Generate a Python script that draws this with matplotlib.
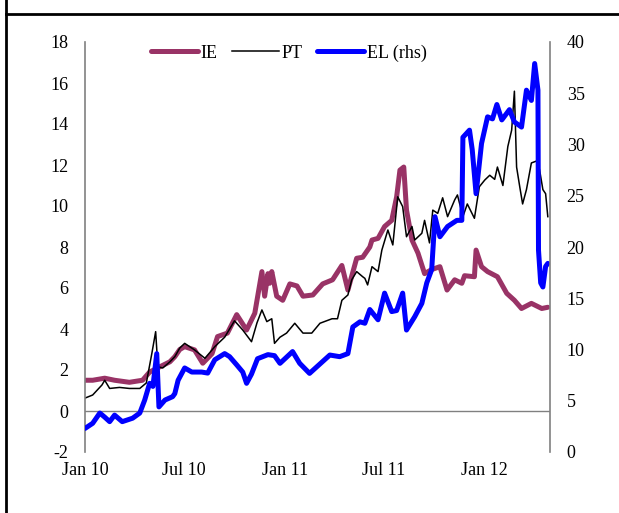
import matplotlib
matplotlib.use("Agg")
import matplotlib.pyplot as plt
from matplotlib.lines import Line2D
import pandas as pd

ie_dates = ["2010-01-01","2010-01-15","2010-02-06","2010-02-24","2010-03-23","2010-04-16","2010-04-29",
            "2010-05-18","2010-06-05","2010-06-14","2010-06-23","2010-07-02","2010-07-20","2010-08-04",
            "2010-08-21","2010-08-31","2010-09-18","2010-10-05","2010-10-23","2010-11-07","2010-11-20",
            "2010-11-25","2010-12-01","2010-12-04","2010-12-08","2010-12-17","2010-12-28","2011-01-10",
            "2011-01-23","2011-02-03","2011-02-21","2011-03-11","2011-03-29","2011-04-15","2011-04-26",
            "2011-05-12","2011-05-23","2011-06-05","2011-06-09","2011-06-20","2011-07-02","2011-07-15",
            "2011-07-24","2011-07-30","2011-08-06","2011-08-11","2011-08-21","2011-09-01","2011-09-13",
            "2011-09-26","2011-10-11","2011-10-24","2011-11-07","2011-11-20","2011-11-25","2011-12-13",
            "2011-12-16","2011-12-26","2012-01-06","2012-01-24","2012-02-10","2012-02-24","2012-03-08",
            "2012-03-26","2012-04-14","2012-04-25"]
ie_vals = [1.5,1.5,1.6,1.5,1.4,1.5,1.9,
           2.16,2.4,2.65,3.0,3.14,2.98,2.33,
           2.8,3.63,3.8,4.7,3.95,4.77,6.8,
           5.6,6.7,6.23,6.8,5.6,5.4,6.2,
           6.1,5.6,5.66,6.2,6.4,7.1,5.9,
           7.45,7.5,8.0,8.34,8.42,9.0,9.3,
           10.45,11.75,11.9,9.8,8.34,7.7,6.7,
           6.9,7.04,5.9,6.4,6.23,6.6,6.55,
           7.85,7.04,6.8,6.55,5.74,5.4,5.0,
           5.25,5.0,5.06]

pt_dates = ["2010-01-01","2010-01-15","2010-02-01","2010-02-06","2010-02-15","2010-03-05","2010-03-23",
            "2010-04-11","2010-04-23","2010-05-03","2010-05-10","2010-05-14","2010-05-23","2010-06-05",
            "2010-06-14","2010-06-23","2010-07-02","2010-07-20","2010-08-08","2010-08-26","2010-09-13",
            "2010-10-01","2010-10-16","2010-11-01","2010-11-11","2010-11-20","2010-11-29","2010-12-08",
            "2010-12-13","2010-12-23","2011-01-04","2011-01-19","2011-02-03","2011-02-19","2011-03-06",
            "2011-03-28","2011-04-07","2011-04-15","2011-04-26","2011-05-03","2011-05-12","2011-05-23",
            "2011-05-27","2011-06-01","2011-06-09","2011-06-20","2011-06-27","2011-07-08","2011-07-17",
            "2011-07-26","2011-08-04","2011-08-11","2011-08-21","2011-08-26","2011-09-08","2011-09-13",
            "2011-09-22","2011-09-28","2011-10-07","2011-10-16","2011-10-25","2011-11-07","2011-11-12",
            "2011-11-22","2011-11-30","2011-12-13","2011-12-22","2012-01-01","2012-01-10","2012-01-19",
            "2012-01-24","2012-02-03","2012-02-12","2012-02-19","2012-02-24","2012-02-28","2012-03-05",
            "2012-03-10","2012-03-17","2012-03-26","2012-04-05","2012-04-10","2012-04-16","2012-04-21",
            "2012-04-25"]
pt_vals = [0.63,0.78,1.27,1.5,1.1,1.15,1.1,
           1.1,1.37,2.8,3.87,2.16,2.1,2.4,
           2.65,3.07,3.3,2.98,2.57,3.14,3.6,
           4.4,3.95,3.38,4.3,4.93,4.36,4.5,
           3.3,3.6,3.8,4.28,3.8,3.8,4.28,
           4.5,4.5,5.4,5.66,6.4,6.8,6.55,
           6.47,6.15,7.04,6.8,7.85,8.83,8.1,
           10.45,9.97,8.5,9.0,8.34,8.67,9.3,
           8.2,9.8,9.64,10.4,9.48,10.3,10.54,
           9.48,10.1,9.4,10.94,11.27,11.5,11.3,
           11.9,11.0,12.9,13.7,15.6,11.9,10.9,
           10.1,10.8,12.1,12.2,11.76,10.8,10.6,
           9.48]

el_dates = ["2010-01-01","2010-01-15","2010-01-28","2010-02-06","2010-02-15","2010-02-24","2010-03-10",
            "2010-03-29","2010-04-11","2010-04-20","2010-04-29","2010-05-05","2010-05-12","2010-05-16",
            "2010-05-27","2010-06-10","2010-06-14","2010-06-20","2010-07-02","2010-07-15","2010-08-02",
            "2010-08-13","2010-08-26","2010-09-13","2010-09-22","2010-10-05","2010-10-16","2010-10-23",
            "2010-11-01","2010-11-12","2010-12-01","2010-12-13","2010-12-23","2011-01-15","2011-01-28",
            "2011-02-15","2011-02-28","2011-03-24","2011-04-11","2011-04-26","2011-05-05","2011-05-18",
            "2011-05-27","2011-06-05","2011-06-20","2011-07-02","2011-07-15","2011-07-24","2011-08-04",
            "2011-08-11","2011-08-26","2011-09-08","2011-09-17","2011-09-26","2011-10-02","2011-10-11",
            "2011-10-25","2011-11-11","2011-11-20","2011-11-22","2011-12-04","2011-12-09","2011-12-16",
            "2011-12-26","2012-01-06","2012-01-15","2012-01-23","2012-02-01","2012-02-15","2012-02-24",
            "2012-03-08","2012-03-17","2012-03-26","2012-04-01","2012-04-07","2012-04-08","2012-04-12",
            "2012-04-16","2012-04-21","2012-04-25"]
el_vals = [2.3,2.8,3.8,3.4,2.96,3.6,2.96,
           3.3,3.8,5.07,6.7,6.4,9.6,4.4,
           5.07,5.4,5.7,7.0,8.2,7.8,7.8,
           7.7,9.0,9.6,9.3,8.5,7.8,6.7,
           7.6,9.1,9.5,9.4,8.65,9.8,8.65,
           7.67,8.3,9.46,9.3,9.6,12.2,12.7,
           12.56,13.9,12.9,15.5,13.7,13.8,15.5,
           11.9,13.2,14.5,16.5,17.8,22.96,21.0,
           22.0,22.6,22.6,30.7,31.4,29.5,25.2,
           30.1,32.7,32.5,33.9,32.4,33.4,32.2,
           31.7,35.3,34.3,37.9,35.3,19.7,16.5,
           16.1,18.1,18.4]

series_labels = ["IE", "PT", "EL (rhs)"]
xtick_dates = ["2010-01-01", "2010-07-01", "2011-01-01", "2011-07-01", "2012-01-01"]
xtick_labels = ["Jan 10", "Jul 10", "Jan 11", "Jul 11", "Jan 12"]
left_ticks = list(range(-2, 19, 2))
right_ticks = list(range(0, 41, 5))

plt.rcParams['font.family'] = ['Liberation Serif', 'DejaVu Serif']
plt.rcParams['font.size'] = 13
plt.rcParams['axes.unicode_minus'] = False

fig = plt.figure(figsize=(6.19, 5.13), dpi=100)
ax = fig.add_axes([85/619, 1-452/513, 465/619, 410/513])
ax2 = ax.twinx()

gray = '#808080'
l1, = ax.plot(pd.to_datetime(ie_dates), ie_vals, color='#993366', lw=3.6, solid_capstyle='round',
              solid_joinstyle='round', label=series_labels[0])
l2, = ax.plot(pd.to_datetime(pt_dates), pt_vals, color='black', lw=1.1, label=series_labels[1])
l3, = ax2.plot(pd.to_datetime(el_dates), el_vals, color='#0000FF', lw=3.6, solid_capstyle='round',
               solid_joinstyle='round', label=series_labels[2])

ax.axhline(0, color=gray, lw=1.0, zorder=0)
ax.set_ylim(-2, 18)
ax2.set_ylim(0, 40)
ax.set_yticks(left_ticks)
ax2.set_yticks(right_ticks)
ax.set_xlim(pd.Timestamp("2010-01-01"), pd.Timestamp("2010-01-01") + pd.Timedelta(days=849))
ax.set_xticks(pd.to_datetime(xtick_dates))
ax.set_xticklabels(xtick_labels)

for a in (ax, ax2):
    for s in ('top', 'bottom'):
        a.spines[s].set_visible(False)
    a.spines['left'].set_color(gray)
    a.spines['right'].set_color(gray)
    a.spines['left'].set_linewidth(1.2)
    a.spines['right'].set_linewidth(1.2)
ax.spines['right'].set_visible(False)
ax2.spines['left'].set_visible(False)
ax.tick_params(axis='y', length=0, pad=12, labelsize=13)
ax2.tick_params(axis='y', length=0, pad=12, labelsize=13)
ax.tick_params(axis='x', length=0, pad=7, labelsize=13)

fig.legend(handles=[l1, l2, l3], loc='center', bbox_to_anchor=(289/619, 1-53/513), ncol=3,
           frameon=False, handlelength=2.6, handletextpad=0.15, columnspacing=0.8, fontsize=13,
           borderaxespad=0, borderpad=0)

# outer frame (partial box)
fig.add_artist(Line2D([5.5/619, 5.5/619], [0, 1], transform=fig.transFigure, color='black', lw=2.0))
fig.add_artist(Line2D([5.5/619, 1], [1-13.5/513, 1-13.5/513], transform=fig.transFigure, color='black', lw=2.0))

fig.savefig("out.png", dpi=100)
